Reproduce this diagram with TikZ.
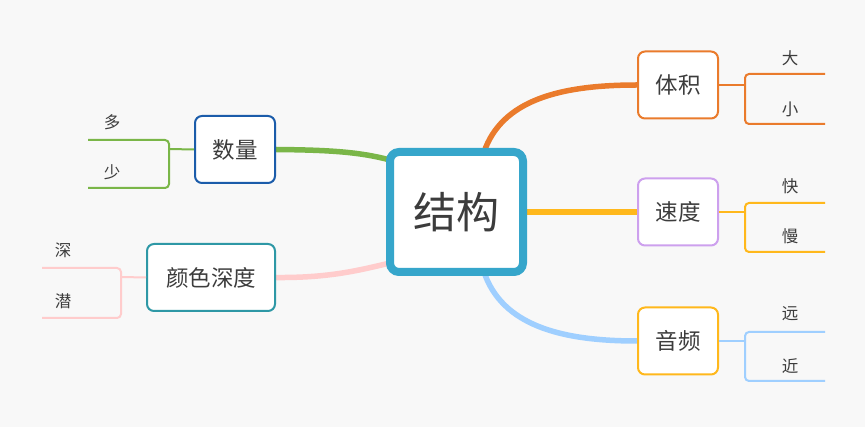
\documentclass[tikz,border=0pt]{standalone}
\usepackage{fontspec}
\setmainfont{Noto Sans CJK SC}
\definecolor{bg}{HTML}{F8F8F8}
\definecolor{txt}{HTML}{3C3C3C}
\definecolor{cblue}{HTML}{36A6CB}
\definecolor{corange}{HTML}{EA7B2C}
\definecolor{cpurple}{HTML}{CDA0EE}
\definecolor{cgold}{HTML}{FFB81C}
\definecolor{clblue}{HTML}{9FCFFF}
\definecolor{cgreen}{HTML}{7AB648}
\definecolor{cnavy}{HTML}{1B5CAA}
\definecolor{cteal}{HTML}{2E98A6}
\definecolor{cpink}{HTML}{FFCCCC}
\pgfdeclarelayer{back}
\pgfdeclarelayer{edges}
\pgfsetlayers{back,edges,main}
\tikzset{
  topic/.style={draw, fill=white, rounded corners=7pt, line width=2pt, text=txt,
     font=\fontsize{22.5}{26}\selectfont, inner sep=0pt, minimum height=67pt},
  leaf/.style={text=txt, font=\fontsize{16.5}{19}\selectfont, inner sep=0pt},
  main/.style={line width=5.5pt},
  brk/.style={line width=2pt, rounded corners=4pt}
}
\begin{document}
\begin{tikzpicture}[x=1pt,y=-1pt]
\begin{pgfonlayer}{back}
\fill[bg] (0,0) rectangle (865,427);
\end{pgfonlayer}
\useasboundingbox (0,0) rectangle (865,427);
% central
\node[draw=cblue, fill=white, line width=8pt, rounded corners=9pt, minimum width=133pt,
  minimum height=120pt, text=txt, font=\fontsize{43}{49}\selectfont, inner sep=0pt]
  (c) at (456.5,212) {结构};
% topics
\node[topic, draw=corange, minimum width=80pt] (tj) at (678,85) {体积};
\node[topic, draw=cpurple, minimum width=80pt] (sd) at (678,212) {速度};
\node[topic, draw=cgold, minimum width=80pt] (yp) at (678,341) {音频};
\node[topic, draw=cnavy, minimum width=80pt] (sl) at (235,149.5) {数量};
\node[topic, draw=cteal, minimum width=128pt] (ys) at (211,277.5) {颜色深度};
% main connectors
\begin{pgfonlayer}{edges}
\coordinate (ctop) at (484,152);
\coordinate (cbot) at (484,272);
\coordinate (cl1) at (390,160);
\coordinate (cl2) at (390,263);
\draw[main, corange] (ctop) .. controls (502,100) and (560,85) .. (tj.west);
\draw[main, cgold] (c.east) -- (sd.west);
\draw[main, clblue] (cbot) .. controls (502,325) and (560,341) .. (yp.west);
\draw[main, cgreen] (sl.east) .. controls (330,150) and (360,152) .. (cl1);
\draw[main, cpink] (ys.east) .. controls (330,278) and (360,270) .. (cl2);
\end{pgfonlayer}
% right brackets
\coordinate (tjb) at (745,85);
\coordinate (tja) at (825,74);
\coordinate (tjc) at (825,124);
\draw[brk, corange] (tj.east) -- (tjb);
\draw[brk, corange] (tja) -| (tjb) |- (tjc);
\node[leaf] (da) at (790,58) {大};
\node[leaf] (xiao) at (790,109) {小};

\coordinate (sdb) at (745,212);
\coordinate (sda) at (825,203);
\coordinate (sdc) at (825,252);
\draw[brk, cgold] (sd.east) -- (sdb);
\draw[brk, cgold] (sda) -| (sdb) |- (sdc);
\node[leaf] (kuai) at (790,186) {快};
\node[leaf] (man) at (790,236) {慢};

\coordinate (ypb) at (745,341);
\coordinate (ypa) at (825,332);
\coordinate (ypc) at (825,381);
\draw[brk, clblue] (yp.east) -- (ypb);
\draw[brk, clblue] (ypa) -| (ypb) |- (ypc);
\node[leaf] (yuan) at (790,314) {远};
\node[leaf] (jin) at (790,366) {近};
% left brackets
\coordinate (slb) at (169,149);
\coordinate (sla) at (88,140);
\coordinate (slc) at (88,188);
\draw[brk, cgreen] (sl.west) -- (slb);
\draw[brk, cgreen] (sla) -| (slb) |- (slc);
\node[leaf] (duo) at (112,122) {多};
\node[leaf] (shao) at (112,172) {少};

\coordinate (ysb) at (121,277);
\coordinate (ysa) at (42,268);
\coordinate (ysc) at (42,318);
\draw[brk, cpink] (ys.west) -- (ysb);
\draw[brk, cpink] (ysa) -| (ysb) |- (ysc);
\node[leaf] (shen) at (63,250) {深};
\node[leaf] (qian) at (63,301) {潜};
\end{tikzpicture}
\end{document}
